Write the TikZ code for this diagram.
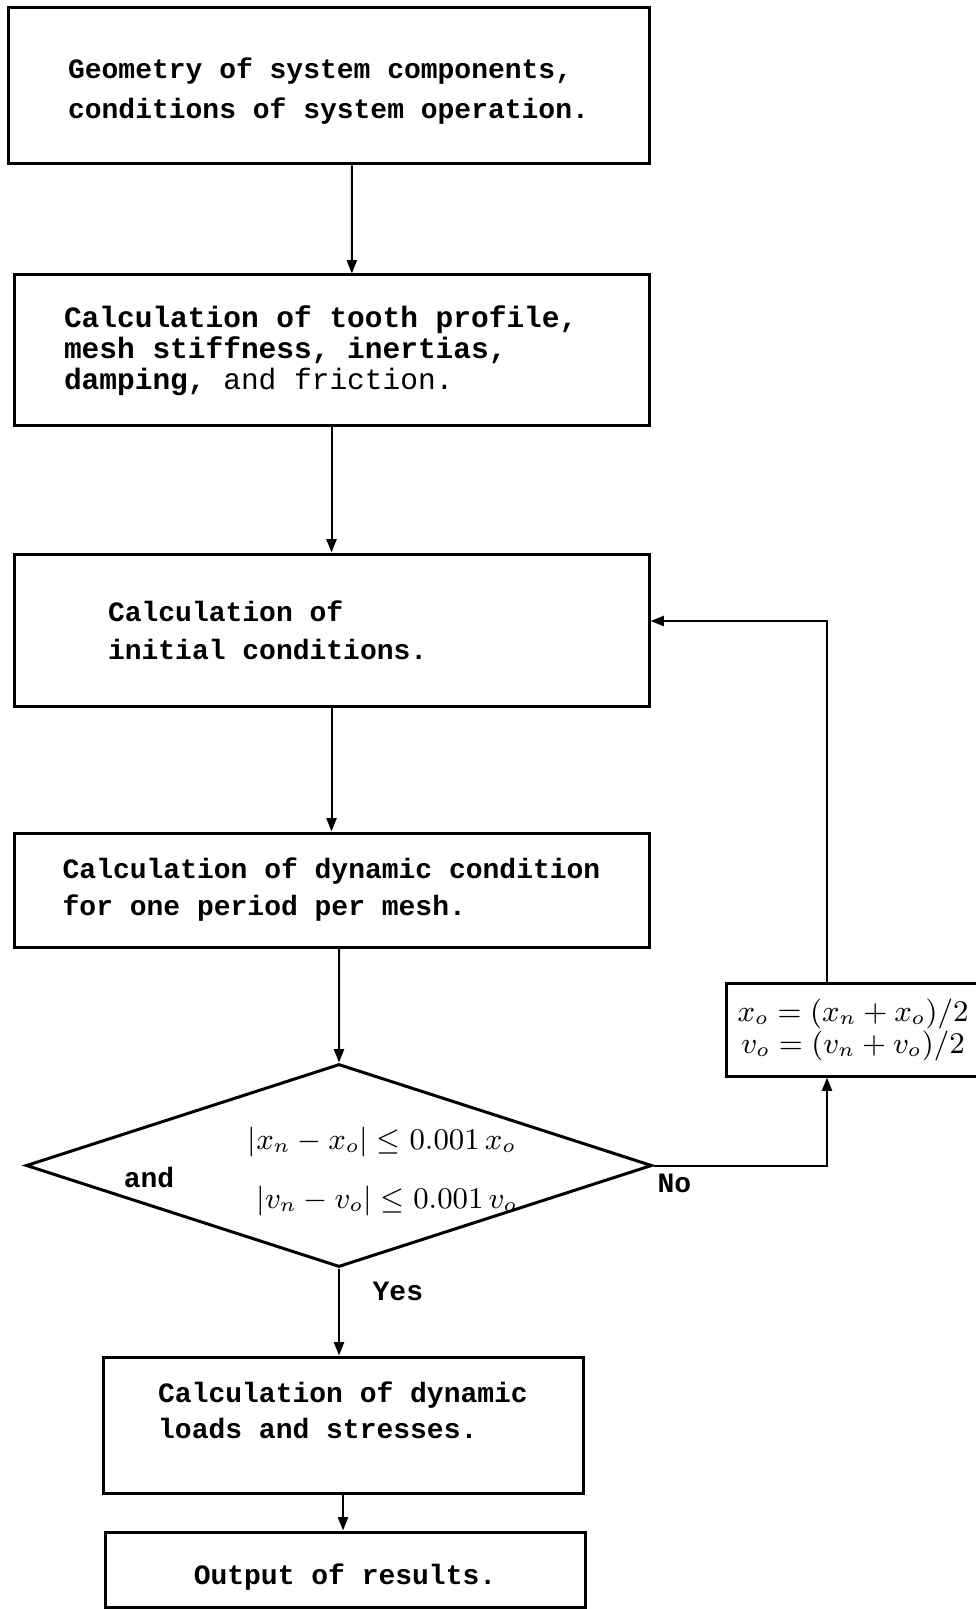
\documentclass[tikz,border=0pt]{standalone}
\usepackage{amsmath}
\usepackage{fontspec}
\setmonofont{Liberation Mono}[WordSpace={1,0,0}]
\usetikzlibrary{
  positioning,
  arrows.meta,
  shapes.geometric
}

\begin{document}
\begin{tikzpicture}[
  x=0.3pt,
  y=-0.3pt,
  typed/.style={
    font=\ttfamily\bfseries\fontsize{8.4}{#1}\selectfont
  },
  typed/.default=12,
  procbox/.style={
    rectangle,
    draw=black,
    line width=0.9pt,
    align=left,
    inner ysep=0pt,
    execute at begin node={\spaceskip=0pt\xspaceskip=0pt\relax}
  },
  decision/.style={
    diamond,
    draw=black,
    line width=0.9pt,
    inner sep=0pt,
    minimum width=187.8pt,
    minimum height=60.9pt
  },
  formula/.style={
    font=\fontsize{9.2}{11}\selectfont
  },
  tag/.style={
    typed,
    anchor=west,
    inner xsep=0pt
  },
  arrow/.style={
    -{Triangle[length=4pt,width=3pt]},
    line width=0.6pt
  }
]
\useasboundingbox (0,0) rectangle (975,1609);

% Main chain
\node[procbox, typed=12, text height=21.5pt, minimum width=192.3pt, minimum height=46.8pt] (geom) at (328.5,86)
  {Geometry of system components,\\conditions of system operation.};
\node[procbox, font=\ttfamily\bfseries\fontsize{8.85}{9.3}\selectfont, text width=160.5pt, inner xsep=15pt, minimum height=45.3pt] (tooth) at (331.5,350.5)
  {Calculation of tooth profile,\\mesh stiffness, inertias,\\damping, {\mdseries and friction.}};
\node[procbox, typed=11.3, text width=134.1pt, inner xsep=28.2pt, minimum height=45.6pt] (init) at (331.5,630)
  {Calculation of\\initial conditions.};
\node[procbox, typed=11.1, minimum width=190.5pt, minimum height=34.2pt] (dyn) at (331.5,890)
  {Calculation of dynamic condition\\for one period per mesh.};

% Convergence test
\node[decision] (check) at (339,1165.5) {};
\node[typed] (andtxt) at (149,1177) {and};
\node[formula] (xcond) at (382,1142) {$|x_n - x_o| \leq 0.001\,x_o$};
\node[formula] (vcond) at (387,1201) {$|v_n - v_o| \leq 0.001\,v_o$};
\node[tag] (yestxt) at (372,1291) {Yes};
\node[tag] (notxt) at (657,1183) {No};

% Update of start values
\node[procbox, align=center, font=\fontsize{8.6}{9.6}\selectfont, minimum width=72pt, minimum height=27.9pt] (upd) at (853,1029.5)
  {$x_o=(x_n+x_o)/2$\\$v_o=(v_n+v_o)/2$};

% Results
\node[procbox, typed=10.8, text depth=9pt, minimum width=144pt, minimum height=40.8pt] (loads) at (343,1425)
  {Calculation of dynamic\\loads and stresses.};
\node[procbox, typed, text height=10.5pt, minimum width=144pt, minimum height=22.5pt] (out) at (345,1569.5)
  {Output of results.};

% Connectors
\draw[arrow] ([xshift=7pt]geom.south) -- ([xshift=6.1pt]tooth.north);
\draw[arrow] (tooth) -- (init);
\draw[arrow] (init) -- (dyn);
\draw[arrow] ([xshift=2.25pt]dyn.south) -- (check.north);
\draw[arrow] (check.south) -- (check.south |- loads.north);
\draw[arrow] (loads.south) -- (loads.south |- out.north);

\draw[arrow] (check.east) -| ([xshift=-7.8pt]upd.south);
\draw[arrow] ([xshift=-7.8pt]upd.north) |- ([yshift=2.7pt]init.east);

\end{tikzpicture}
\end{document}
